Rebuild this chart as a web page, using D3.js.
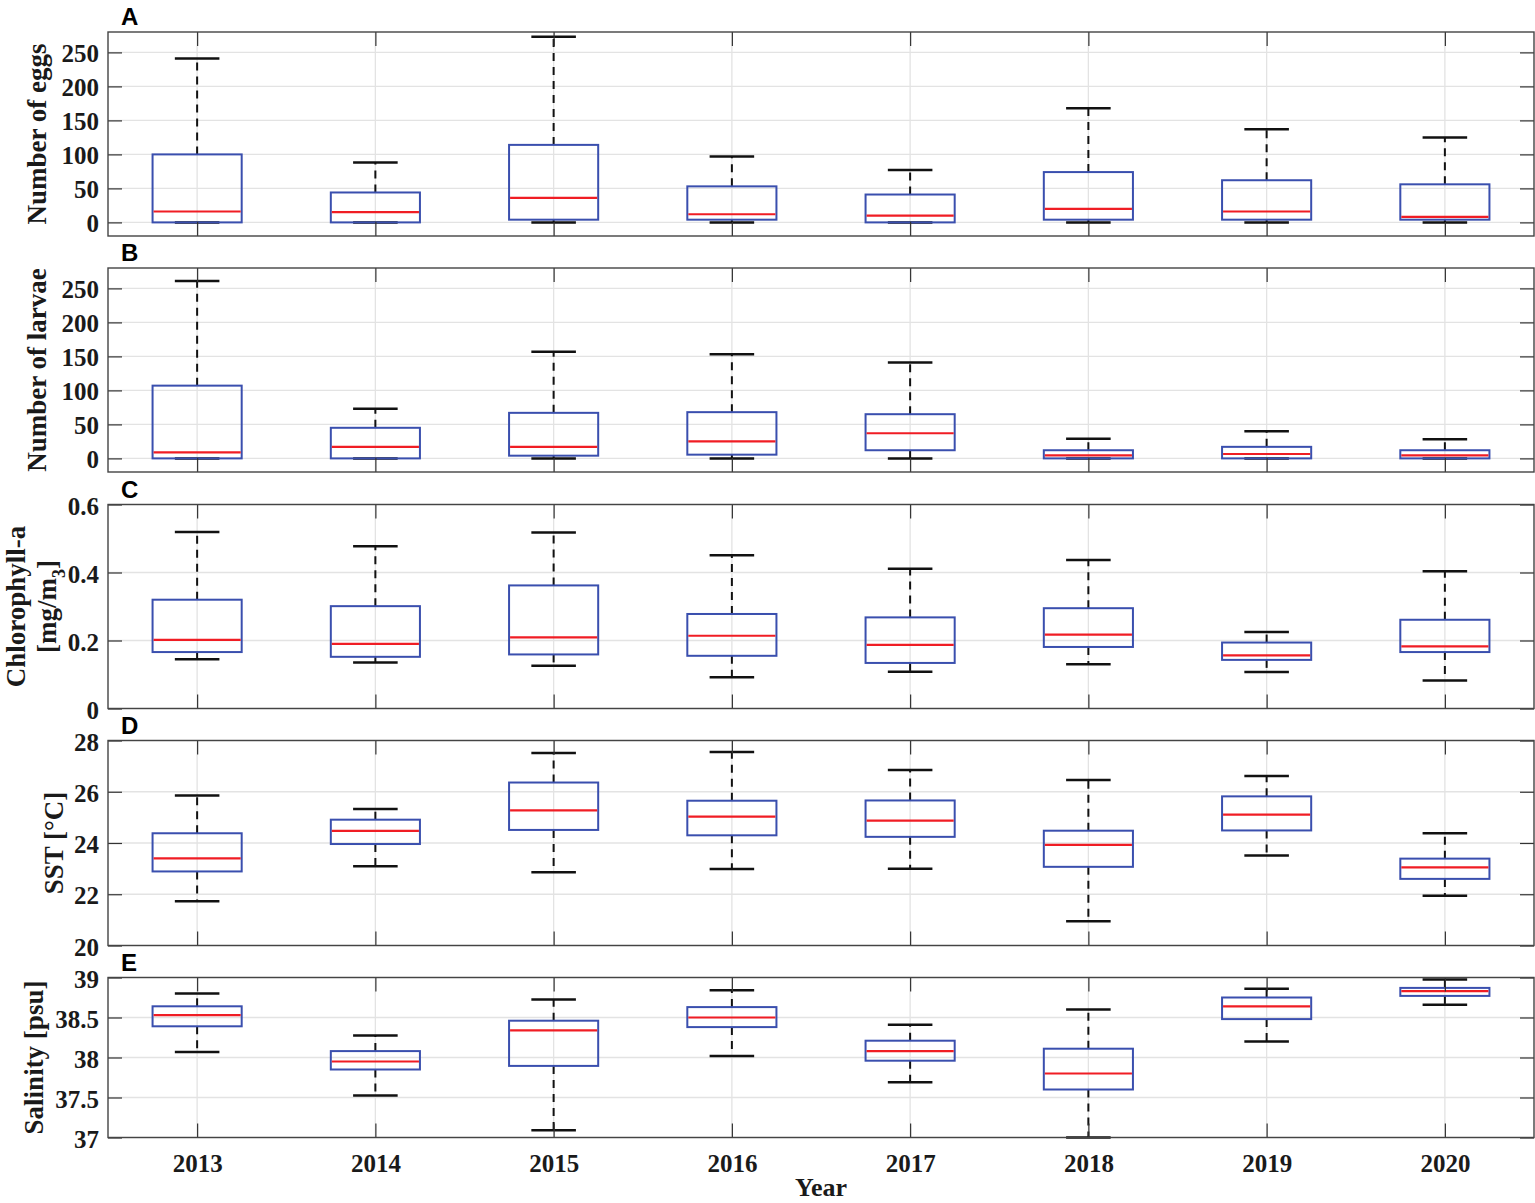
<!DOCTYPE html>
<html>
<head>
<meta charset="utf-8">
<script src="https://cdn.jsdelivr.net/npm/d3@7/dist/d3.min.js"></script>
<style>
    body { margin: 0; background: #fff; }
    svg { display: block; }
</style>
</head>
<body>
<svg id="chart-container" width="1535" height="1203"></svg>
<script>
// years on the x axis
var years = ['2013', '2014', '2015', '2016', '2017', '2018', '2019', '2020'];

// A - number of eggs (lower whisker, q1, median, q3, upper whisker)
var eggsLow = [0, 0, 0, 0, 0, 0, 0, 0];
var eggsQ1 = [0, 0, 4, 4, 0, 4, 4, 4];
var eggsMed = [16, 15, 36, 12, 10, 20, 16, 8];
var eggsQ3 = [100, 44, 114, 53, 41, 74, 62, 56];
var eggsHigh = [241, 88, 273, 97, 77, 168, 137, 125];
var eggsTicks = [0, 50, 100, 150, 200, 250];

// B - number of larvae
var larvaeLow = [0, 0, 0, 0, 0, 0, 0, 0];
var larvaeQ1 = [0, 0, 4, 5.5, 12, 0, 0, 0];
var larvaeMed = [9, 17, 17, 25, 37, 4.5, 6.5, 4.5];
var larvaeQ3 = [107, 45, 67, 68, 65, 12, 17, 12];
var larvaeHigh = [261, 73, 157, 153, 141, 29, 40, 28];
var larvaeTicks = [0, 50, 100, 150, 200, 250];

// C - chlorophyll-a
var chlLow = [0.145, 0.135, 0.126, 0.092, 0.108, 0.130, 0.107, 0.082];
var chlQ1 = [0.166, 0.152, 0.159, 0.155, 0.134, 0.181, 0.143, 0.166];
var chlMed = [0.202, 0.190, 0.209, 0.214, 0.187, 0.217, 0.156, 0.183];
var chlQ3 = [0.320, 0.301, 0.362, 0.278, 0.268, 0.295, 0.194, 0.261];
var chlHigh = [0.519, 0.477, 0.518, 0.451, 0.411, 0.437, 0.225, 0.404];
var chlTicks = [0, 0.2, 0.4, 0.6];

// D - SST
var sstLow = [21.73, 23.09, 22.86, 22.99, 23.0, 20.95, 23.51, 21.94];
var sstQ1 = [22.89, 23.96, 24.51, 24.3, 24.24, 23.07, 24.49, 22.6];
var sstMed = [23.4, 24.47, 25.27, 25.03, 24.87, 23.93, 25.11, 23.05];
var sstQ3 = [24.38, 24.91, 26.36, 25.65, 25.66, 24.48, 25.82, 23.39];
var sstHigh = [25.85, 25.33, 27.51, 27.55, 26.85, 26.46, 26.61, 24.38];
var sstTicks = [20, 22, 24, 26, 28];

// E - salinity
var salLow = [38.07, 37.525, 37.09, 38.02, 37.69, 37.0, 38.2, 38.66];
var salQ1 = [38.39, 37.85, 37.895, 38.38, 37.96, 37.6, 38.48, 38.77];
var salMed = [38.53, 37.95, 38.34, 38.5, 38.08, 37.8, 38.64, 38.83];
var salQ3 = [38.64, 38.08, 38.46, 38.63, 38.21, 38.11, 38.75, 38.87];
var salHigh = [38.8, 38.275, 38.725, 38.84, 38.41, 38.6, 38.86, 38.975];
var salTicks = [37, 37.5, 38, 38.5, 39];

(function () {
    'use strict';

    var left = 108, right = 1534;
    var tickLen = 14;
    var serif = '"Liberation Serif", "Times New Roman", serif';
    var sans = '"Liberation Sans", Arial, sans-serif';

    var panels = [
        {letter: 'A', top: 32, bottom: 236, domain: [-20, 280], ticks: eggsTicks,
            low: eggsLow, q1: eggsQ1, med: eggsMed, q3: eggsQ3, high: eggsHigh,
            label: [{text: 'Number of eggs', x: 46}]},
        {letter: 'B', top: 268, bottom: 472, domain: [-20, 280], ticks: larvaeTicks,
            low: larvaeLow, q1: larvaeQ1, med: larvaeMed, q3: larvaeQ3, high: larvaeHigh,
            label: [{text: 'Number of larvae', x: 46}]},
        {letter: 'C', top: 504.5, bottom: 708.5, domain: [0, 0.6], ticks: chlTicks,
            low: chlLow, q1: chlQ1, med: chlMed, q3: chlQ3, high: chlHigh,
            label: [{text: 'Chlorophyll-a', x: 25}, {text: '[mg/m', sup: '3', after: ']', x: 56}]},
        {letter: 'D', top: 740.5, bottom: 945.5, domain: [20, 28], ticks: sstTicks,
            low: sstLow, q1: sstQ1, med: sstMed, q3: sstQ3, high: sstHigh,
            label: [{text: 'SST [°C]', x: 63}]},
        {letter: 'E', top: 977.5, bottom: 1137.5, domain: [37, 39], ticks: salTicks,
            low: salLow, q1: salQ1, med: salMed, q3: salQ3, high: salHigh,
            label: [{text: 'Salinity [psu]', x: 43}], xLabels: true}
    ];

    var chart = d3.select('#chart-container');
    var x = d3.scaleLinear().domain([0.5, years.length + 0.5]).range([left, right]);
    var positions = years.map(function (d, i) { return i + 1; });

    function renderPanel(p) {
        var y = d3.scaleLinear().domain(p.domain).range([p.bottom, p.top]);
        var grp = chart.append('g');

        // grid
        var grid = grp.append('g');
        p.ticks.forEach(function (t) {
            grid.append('line').attr('x1', left).attr('x2', right)
                .attr('y1', y(t)).attr('y2', y(t))
                .attr('stroke', '#e3e3e3').attr('stroke-width', 1.3);
        });
        positions.forEach(function (t) {
            grid.append('line').attr('x1', x(t)).attr('x2', x(t))
                .attr('y1', p.top).attr('y2', p.bottom)
                .attr('stroke', '#e3e3e3').attr('stroke-width', 1.3);
        });

        // boxes
        var boxes = grp.append('g');
        positions.forEach(function (pos, i) {
            var cx = x(pos);
            var x0 = x(pos - 0.25), x1 = x(pos + 0.25);
            var c0 = x(pos - 0.125), c1 = x(pos + 0.125);
            // whiskers
            boxes.append('line').attr('x1', cx).attr('x2', cx)
                .attr('y1', y(p.q3[i])).attr('y2', y(p.high[i]))
                .attr('stroke', '#111').attr('stroke-width', 2).attr('stroke-dasharray', '8,6');
            boxes.append('line').attr('x1', cx).attr('x2', cx)
                .attr('y1', y(p.q1[i])).attr('y2', y(p.low[i]))
                .attr('stroke', '#111').attr('stroke-width', 2).attr('stroke-dasharray', '8,6');
            // caps
            boxes.append('line').attr('x1', c0).attr('x2', c1)
                .attr('y1', y(p.high[i])).attr('y2', y(p.high[i]))
                .attr('stroke', '#111').attr('stroke-width', 2.5);
            boxes.append('line').attr('x1', c0).attr('x2', c1)
                .attr('y1', y(p.low[i])).attr('y2', y(p.low[i]))
                .attr('stroke', '#111').attr('stroke-width', 2.5);
            // box
            boxes.append('rect').attr('x', x0).attr('y', y(p.q3[i]))
                .attr('width', x1 - x0).attr('height', Math.max(y(p.q1[i]) - y(p.q3[i]), 0))
                .attr('fill', 'none').attr('stroke', '#3a4fae').attr('stroke-width', 2);
            // median
            boxes.append('line').attr('x1', x0 + 1).attr('x2', x1 - 1)
                .attr('y1', y(p.med[i])).attr('y2', y(p.med[i]))
                .attr('stroke', '#f01d24').attr('stroke-width', 2.2);
        });

        // axes (ticks inside)
        var yl = grp.append('g').attr('transform', 'translate(' + left + ',0)')
            .call(d3.axisLeft(y).tickValues(p.ticks).tickSizeInner(-tickLen).tickSizeOuter(0)
                .tickPadding(9).tickFormat(function (d) { return String(d); }));
        grp.append('g').attr('transform', 'translate(' + right + ',0)')
            .call(d3.axisRight(y).tickValues(p.ticks).tickSizeInner(-tickLen).tickSizeOuter(0)
                .tickFormat(''));
        grp.append('g').attr('transform', 'translate(0,' + p.top + ')')
            .call(d3.axisTop(x).tickValues(positions).tickSizeInner(-tickLen).tickSizeOuter(0)
                .tickFormat(''));
        var xb = grp.append('g').attr('transform', 'translate(0,' + p.bottom + ')')
            .call(d3.axisBottom(x).tickValues(positions).tickSizeInner(-tickLen).tickSizeOuter(0)
                .tickPadding(17).tickFormat(function (d) { return p.xLabels ? years[d - 1] : ''; }));

        grp.selectAll('.domain').remove();
        grp.selectAll('.tick line').attr('stroke', '#333').attr('stroke-width', 1.2);
        yl.selectAll('text').attr('fill', '#1a1a1a')
            .attr('style', 'font-family: ' + serif + '; font-weight: bold; font-size: 25px;')
            .attr('dy', '0.38em');
        xb.selectAll('text').attr('fill', '#1a1a1a')
            .attr('style', 'font-family: ' + serif + '; font-weight: bold; font-size: 25px;');

        // axes box
        grp.append('rect').attr('x', left).attr('y', p.top)
            .attr('width', right - left).attr('height', p.bottom - p.top)
            .attr('fill', 'none').attr('stroke', '#444').attr('stroke-width', 1.4);

        // panel letter
        grp.append('text').attr('x', 121).attr('y', p.top - 7).text(p.letter)
            .attr('fill', '#000')
            .attr('style', 'font-family: ' + sans + '; font-weight: bold; font-size: 24px;');

        // y label
        var cy = (p.top + p.bottom) / 2;
        p.label.forEach(function (l) {
            var t = grp.append('text')
                .attr('transform', 'translate(' + l.x + ',' + cy + ') rotate(-90)')
                .attr('text-anchor', 'middle').attr('fill', '#1a1a1a')
                .attr('style', 'font-family: ' + serif + '; font-weight: bold; font-size: 27px;');
            t.append('tspan').text(l.text);
            if (l.sup) {
                t.append('tspan').attr('dy', 9).attr('style', 'font-size: 18px;').text(l.sup);
                t.append('tspan').attr('dy', -9).text(l.after);
            }
        });
    }

    panels.forEach(renderPanel);

    // x label
    chart.append('text').attr('x', x(4.5)).attr('y', 1196).attr('text-anchor', 'middle')
        .attr('fill', '#1a1a1a').text('Year')
        .attr('style', 'font-family: ' + serif + '; font-weight: bold; font-size: 26px;');
})();
</script>
</body>
</html>
